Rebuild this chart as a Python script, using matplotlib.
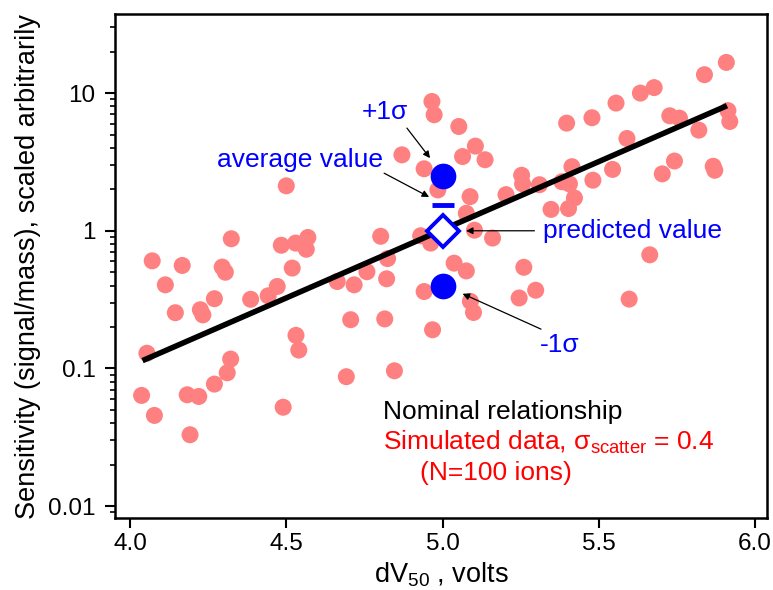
import matplotlib
matplotlib.use("Agg")
import matplotlib.pyplot as plt

plt.rcParams["font.family"] = ["Liberation Sans", "DejaVu Sans"]
plt.rcParams["mathtext.default"] = "regular"

# simulated ions (dV50 in volts, sensitivity)
SIM_X = [4.071, 4.167, 4.295, 4.305, 4.113, 4.145, 4.225, 4.233, 4.270, 4.386,
         4.442, 4.471, 4.519, 4.054, 4.322, 4.311, 4.270, 4.183, 4.220, 4.037,
         4.078, 4.192, 4.531, 4.540, 4.490, 4.500, 4.324, 4.484, 4.530, 4.569,
         4.564, 4.663, 4.717, 4.758, 4.821, 4.802, 4.824, 4.706, 4.815, 4.692,
         4.846, 4.941, 4.968, 4.966, 4.973, 4.870, 4.941, 4.985, 4.930, 4.962,
         5.052, 5.105, 5.064, 5.136, 5.088, 5.076, 5.102, 5.160, 5.037, 5.076,
         5.089, 5.099, 5.203, 5.253, 5.256, 5.310, 5.260, 5.298, 5.245, 5.347,
         5.403, 5.422, 5.382, 5.406, 5.414, 5.481, 5.544, 5.397, 5.478, 5.555,
         5.590, 5.633, 5.677, 5.703, 5.742, 5.727, 5.758, 5.820, 5.866, 5.871,
         5.838, 5.908, 5.913, 5.919, 5.663, 5.597]
SIM_Y = [0.605, 0.560, 0.545, 0.500, 0.405, 0.254, 0.267, 0.245, 0.321, 0.318,
         0.337, 0.394, 0.536, 0.129, 0.117, 0.093, 0.077, 0.0644, 0.0626, 0.0637,
         0.0456, 0.0330, 0.174, 0.136, 0.0523, 2.12, 0.875, 0.785, 0.814, 0.894,
         0.734, 0.428, 0.405, 0.504, 0.448, 0.912, 0.628, 0.226, 0.229, 0.0871,
         0.0962, 0.362, 0.191, 8.69, 6.96, 3.56, 2.82, 1.98, 0.920, 0.814,
         5.72, 4.12, 3.46, 3.28, 1.77, 1.34, 1.01, 0.885, 0.582, 0.511,
         0.307, 0.255, 1.83, 2.53, 2.19, 2.16, 0.543, 0.370, 0.325, 1.43,
         1.45, 1.73, 2.27, 2.19, 2.92, 2.33, 2.79, 6.05, 6.62, 8.46,
         4.68, 10.0, 10.96, 2.59, 3.21, 6.84, 6.58, 5.38, 2.94, 2.75,
         13.6, 16.7, 7.46, 6.22, 0.669, 0.319]

# nominal relationship
LINE_X = [4.04, 5.91]
LINE_Y = [0.114, 8.1]

# statistics at dV50 = 5.0
STAT_X = 5.0
PLUS_SIGMA = 2.51
AVERAGE = 1.53
PREDICTED = 1.0
MINUS_SIGMA = 0.398

PINK = "#ff8080"
BLUE = "#0000ff"

fig = plt.figure(figsize=(7.73, 5.90), dpi=100)
ax = fig.add_axes([0.1488, 0.1220, 0.8434, 0.8542])

ax.scatter(SIM_X, SIM_Y, s=150, color=PINK, edgecolors="none", zorder=2)
ax.plot(LINE_X, LINE_Y, color="black", lw=4, solid_capstyle="butt", zorder=3)

ax.plot([STAT_X], [PLUS_SIGMA], "o", color=BLUE, ms=18.5, mec="none", zorder=4)
ax.plot([STAT_X], [MINUS_SIGMA], "o", color=BLUE, ms=18.5, mec="none", zorder=4)
ax.plot([STAT_X], [AVERAGE], "_", color=BLUE, ms=16, mew=3.5, zorder=4)
ax.plot([STAT_X], [PREDICTED], "D", mfc="white", mec=BLUE, ms=16, mew=2.8, zorder=4)

arrow = dict(arrowstyle="-|>", color="black", lw=0.9, mutation_scale=10,
             shrinkA=0, shrinkB=0)
FS = 19
ax.text(4.815, 7.3, "+1σ", color=BLUE, fontsize=FS, ha="center", va="center")
ax.annotate("", xy=(4.960, 3.37), xytext=(4.886, 5.57), arrowprops=arrow, zorder=5)
ax.text(4.544, 3.28, "average value", color=BLUE, fontsize=FS, ha="center", va="center")
ax.annotate("", xy=(4.957, 1.76), xytext=(4.813, 2.62), arrowprops=arrow, zorder=5)
ax.text(5.320, 1.0, "predicted value", color=BLUE, fontsize=FS, ha="left", va="center")
ax.annotate("", xy=(5.075, 1.0), xytext=(5.294, 1.0), arrowprops=arrow, zorder=5)
ax.text(5.376, 0.149, "-1σ", color=BLUE, fontsize=FS, ha="center", va="center")
ax.annotate("", xy=(5.064, 0.349), xytext=(5.315, 0.193), arrowprops=arrow, zorder=5)

ax.text(0.411, 0.211, "Nominal relationship", transform=ax.transAxes,
        fontsize=FS, color="black", ha="left", va="center")
ax.text(0.411, 0.151, "Simulated data, σ$_{scatter}$ = 0.4", transform=ax.transAxes,
        fontsize=FS, color="red", ha="left", va="center")
ax.text(0.468, 0.089, "(N=100 ions)", transform=ax.transAxes,
        fontsize=FS, color="red", ha="left", va="center")

ax.set_yscale("log")
ax.set_xlim(3.952, 6.038)
ax.set_ylim(0.0082, 37.5)
ax.set_xticks([4.0, 4.5, 5.0, 5.5, 6.0])
ax.set_xticklabels(["4.0", "4.5", "5.0", "5.5", "6.0"])
ax.set_yticks([0.01, 0.1, 1, 10])
ax.set_yticklabels(["0.01", "0.1", "1", "10"])

for side in ax.spines.values():
    side.set_linewidth(1.8)
ax.tick_params(which="major", direction="out", length=7, width=1.5, labelsize=17.5)
ax.tick_params(axis="x", which="major", pad=4)
ax.tick_params(axis="y", which="major", pad=7)
ax.tick_params(axis="y", which="minor", direction="out", length=3.5, width=1.2)
ax.tick_params(axis="x", which="minor", bottom=False)

ax.set_xlabel("dV$_{50}$ , volts", fontsize=19.5, labelpad=4)
ax.set_ylabel("Sensitivity (signal/mass), scaled arbitrarily", fontsize=19.5, labelpad=5)

fig.savefig("out.png", dpi=100)
